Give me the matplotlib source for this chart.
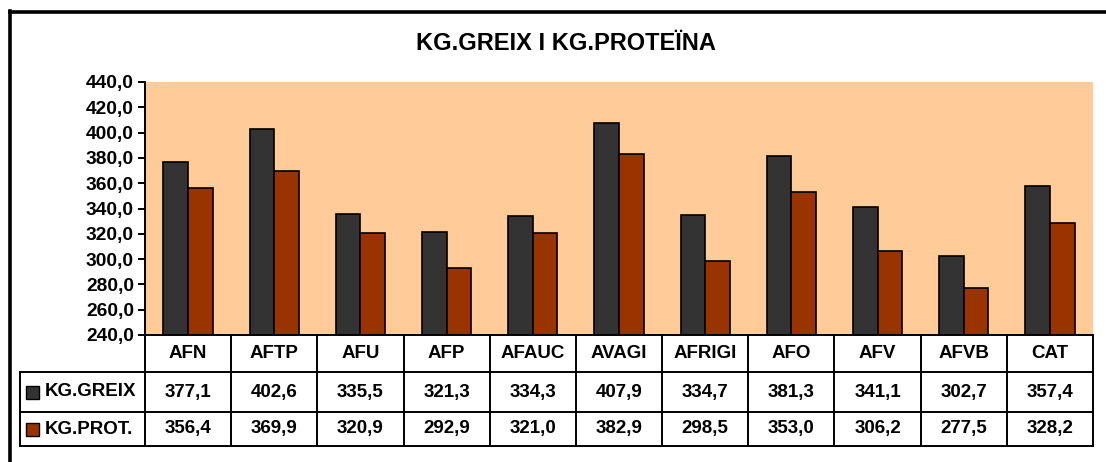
import matplotlib.pyplot as plt
import matplotlib.ticker as mticker
from matplotlib.patches import Rectangle
from matplotlib.lines import Line2D

plt.rcParams['font.family'] = ['Liberation Sans', 'DejaVu Sans']
plt.rcParams['font.weight'] = 'bold'

categories = ['AFN', 'AFTP', 'AFU', 'AFP', 'AFAUC', 'AVAGI', 'AFRIGI', 'AFO', 'AFV', 'AFVB', 'CAT']
kg_greix = [377.1, 402.6, 335.5, 321.3, 334.3, 407.9, 334.7, 381.3, 341.1, 302.7, 357.4]
kg_prot = [356.4, 369.9, 320.9, 292.9, 321.0, 382.9, 298.5, 353.0, 306.2, 277.5, 328.2]
series_names = ['KG.GREIX', 'KG.PROT.']
series_colors = ['#333333', '#993300']
title = 'KG.GREIX I KG.PROTEÏNA'

W, H = 1106, 462
fig = plt.figure(figsize=(W / 100, H / 100), dpi=100)

# zona del gràfic (en píxels)
left, right, top, bottom = 145, 1093, 82, 335
ax = fig.add_axes([left / W, (H - bottom) / H, (right - left) / W, (bottom - top) / H])
ax.set_facecolor('#FFCC99')

n = len(categories)
xs = list(range(n))
bw = 0.286
ax.bar([x - bw / 2 for x in xs], kg_greix, width=bw, color=series_colors[0],
       edgecolor='black', linewidth=1.2, zorder=3)
ax.bar([x + bw / 2 for x in xs], kg_prot, width=bw, color=series_colors[1],
       edgecolor='black', linewidth=1.2, zorder=3)

ax.set_xlim(-0.5, n - 0.5)
ax.set_ylim(240, 440)
ax.yaxis.set_major_locator(mticker.MultipleLocator(20))
ax.yaxis.set_major_formatter(mticker.FuncFormatter(lambda v, p: f'{v:.1f}'.replace('.', ',')))
ax.set_xticks([])
for s in ['top', 'right', 'bottom']:
    ax.spines[s].set_visible(False)
ax.spines['left'].set_linewidth(1.4)
ax.tick_params(axis='y', direction='out', length=5, width=1.4, labelsize=13.8, pad=3)
for lab in ax.get_yticklabels():
    lab.set_fontweight('bold')

# taula de dades sota el gràfic
tl, tb = 20, 446
cw = (right - left) / n
lab_w = (left - tl) / cw
tab = fig.add_axes([tl / W, (H - tb) / H, (right - tl) / W, (tb - bottom) / H])
tab.set_xlim(-0.5 - lab_w, n - 0.5)
tab.set_ylim(tb - bottom, 0)
tab.axis('off')

rows = [0, 37, 77, 111]
lw = 1.4
x0 = -0.5 - lab_w
x_end = n - 0.5
tab.plot([-0.5, x_end], [rows[0], rows[0]], color='black', lw=lw, clip_on=False)
for r in rows[1:]:
    tab.plot([x0, x_end], [r, r], color='black', lw=lw, clip_on=False)
tab.plot([x0, x0], [rows[1], rows[3]], color='black', lw=lw, clip_on=False)
for i in range(n + 1):
    xv = i - 0.5
    tab.plot([xv, xv], [rows[0], rows[3]], color='black', lw=lw, clip_on=False)

fs = 13.5
for i, c in enumerate(categories):
    tab.text(i, (rows[0] + rows[1]) / 2, c, ha='center', va='center', fontsize=fs, fontweight='bold')
for r, vals in enumerate([kg_greix, kg_prot]):
    yc = (rows[r + 1] + rows[r + 2]) / 2
    for i, v in enumerate(vals):
        tab.text(i, yc, f'{v:.1f}'.replace('.', ','), ha='center', va='center',
                 fontsize=fs, fontweight='bold')
    tab.add_patch(Rectangle((x0 + 6 / cw, yc - 6.5), 13 / cw, 13,
                            facecolor=series_colors[r], edgecolor='black', lw=1.0, clip_on=False))
    tab.text(x0 + 25 / cw, yc, series_names[r], ha='left', va='center', fontsize=fs, fontweight='bold')

fig.text(566 / W, 1 - 43 / H, title, ha='center', va='center', fontsize=17, fontweight='bold')

# marc exterior
fig.add_artist(Line2D([9.5 / W, 9.5 / W], [0, 1 - 11 / H], color='black', lw=2.6))
fig.add_artist(Line2D([9.5 / W, 1], [1 - 12 / H, 1 - 12 / H], color='black', lw=2.6))

fig.savefig('out.png', dpi=100)
